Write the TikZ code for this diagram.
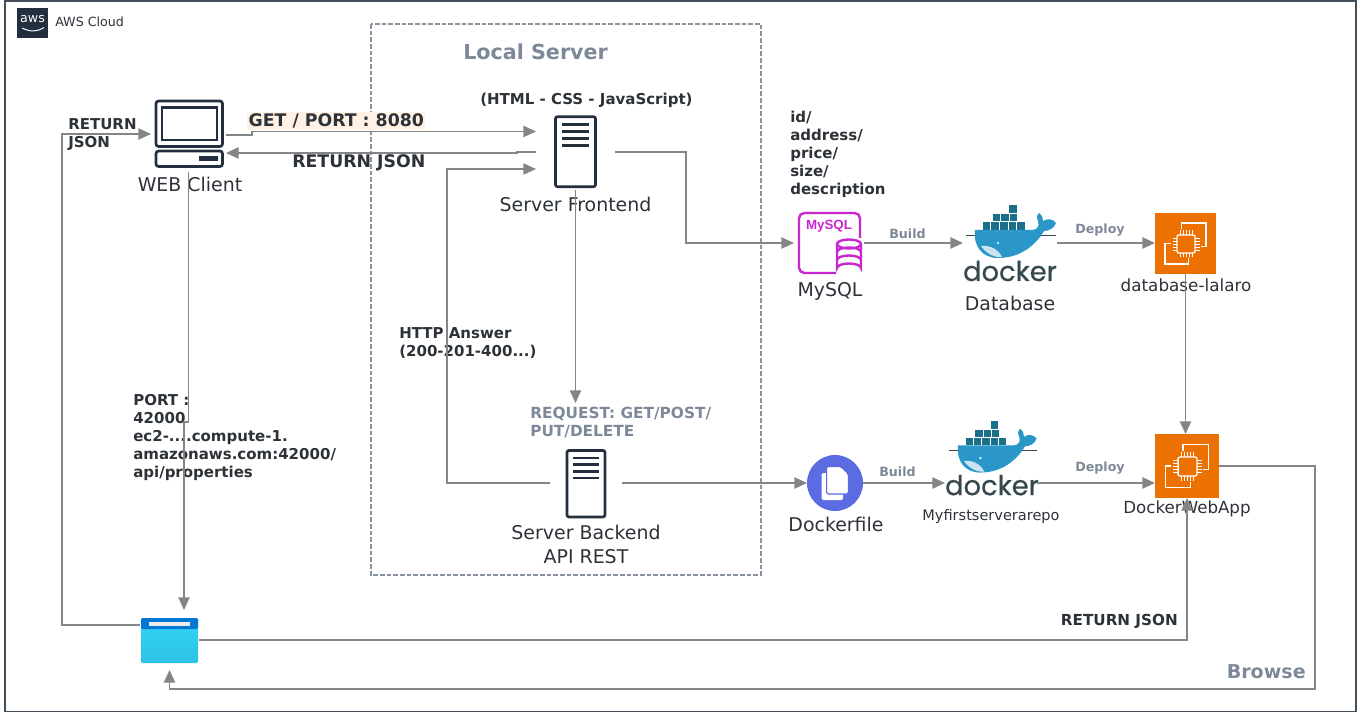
\documentclass[tikz,border=0pt]{standalone}
\usepackage{fontspec}
\setmainfont{DejaVu Sans}
\newfontfamily\logofont[FakeBold=0.5]{Poppins}
\newfontfamily\mysqlfont{Liberation Sans}
\usetikzlibrary{arrows.meta,calc}

\definecolor{inkdark}{HTML}{232F3E}
\definecolor{textdark}{HTML}{2D3238}
\definecolor{linegray}{HTML}{858585}
\definecolor{slategray}{HTML}{7D8998}
\definecolor{dashgray}{HTML}{8A94A0}
\definecolor{ecorange}{HTML}{ED7100}
\definecolor{mysqlpink}{HTML}{C925D1}
\definecolor{whaleblue}{HTML}{2B96C8}
\definecolor{boxteal}{HTML}{1B6F88}
\definecolor{dockerword}{HTML}{36474F}
\definecolor{filepurple}{HTML}{5B6BE1}
\definecolor{tabblue}{HTML}{0078D4}
\definecolor{skyhigh}{HTML}{32D4F5}
\definecolor{skylow}{HTML}{2CC2E6}

\tikzset{
	conn/.style={draw=linegray,line width=1pt,-{Triangle[length=9.5pt,width=8.5pt]}},
	iconbox/.style={inner sep=0pt,outer sep=0pt},
	ecbox/.style={iconbox,fill=ecorange},
	caption/.style={inner sep=0pt,text=textdark,font=\fontsize{14.2}{18}\selectfont,align=center},
	boldtag/.style={inner sep=0pt,text=textdark,align=left,font=\fontsize{11.25}{13.5}\selectfont\bfseries},
	graytag/.style={boldtag,text=slategray},
	bigtag/.style={boldtag,font=\fontsize{13}{15}\selectfont\bfseries},
	smalltag/.style={inner sep=0pt,text=slategray,font=\fontsize{9.5}{12}\selectfont\bfseries},
	serverpic/.pic={
		\draw[inkdark,line width=2pt,rounded corners=1.5pt] (-20,-35) rectangle (20,35);
		\foreach \yy in {-27,-20,-13,-6}
			\draw[inkdark,line width=2pt] (-13.5,\yy) -- (13.5,\yy);
	},
	ecpic/.pic={
		\draw[white,line width=1pt] (-3.7,-14) -- (-3.7,-20.5) -- (20.5,-20.5) -- (20.5,3.3) -- (15,3.3);
		\draw[white,line width=1pt] (-15,0) -- (-20.5,0) -- (-20.5,20.5) -- (3.3,20.5) -- (3.3,15);
		\draw[white,line width=1pt,rounded corners=1pt] (-8.5,-8.5) rectangle (9.5,9.5);
		\foreach \tt in {-6,-3,0,3,6}{
			\draw[white,line width=.7pt] (\tt+.5,-13) -- (\tt+.5,-8.5) (\tt+.5,9.5) -- (\tt+.5,14);
			\draw[white,line width=.7pt] (-13,\tt+.5) -- (-8.5,\tt+.5) (9.5,\tt+.5) -- (14,\tt+.5);
		}
	},
	dockerpic/.pic={
		% containers
		\foreach \cc in {0,...,4}
			\draw[fill=boxteal,draw=white,line width=.2pt] (-28+8.6*\cc,-21.5) rectangle ++(8.6,8.5);
		\foreach \cc in {0,...,2}
			\draw[fill=boxteal,draw=white,line width=.2pt] (-18+8.4*\cc,-30) rectangle ++(8.4,8.5);
		\draw[fill=boxteal,draw=white,line width=.2pt] (-1.7,-39) rectangle ++(8.4,9);
		% whale
		\draw[dockerword,line width=.5pt] (-44,-8) -- (46,-8);
		\fill[whaleblue] (-35,-13) -- (22,-13) .. controls (27,-13) and (30,-17) .. (28,-22)
			.. controls (26,-26) and (27,-29) .. (29,-30) .. controls (32,-28) and (33,-25) .. (33,-22)
			.. controls (38,-25) and (43,-24) .. (46,-20) .. controls (44,-14) and (38,-12) .. (34,-12)
			.. controls (28,-2) and (14,15) .. (-12,15) .. controls (-28,15) and (-37,3) .. (-35,-13) -- cycle;
		\fill[white!75!whaleblue] (-29,3) .. controls (-20,2) and (-12,6) .. (-8,14) .. controls (-16,15) and (-24,10) .. (-29,3) -- cycle;
		\fill[white] (-12,0) circle (1.2);
		\node[inner sep=0pt,text=dockerword] (-word) at (0,28) {\fontsize{20.5}{21}\logofont docker};
	},
}

\begin{document}
\begin{tikzpicture}[x=0.75pt,y=-0.75pt]
	\useasboundingbox (0,0) rectangle (1361,713);

	% Frames
	\draw[inkdark!85,line width=1.2pt] (5,1) rectangle (1356,711.5);
	\draw[dashgray,line width=.8pt,dash pattern=on 3.5pt off 1.5pt] (371,24) rectangle (761,575);
	\node[iconbox,fill=inkdark,minimum size=22.8pt] (awslogo) at (32.5,23) {};
	\node[inner sep=0pt,text=white] (awsword) at (32.5,19.5) {\fontsize{9.5}{10}\selectfont aws};
	\draw[white,line width=.7pt] (22,28) .. controls (30,32) and (37,32) .. (44,27.5);
	\node[caption,anchor=west,font=\fontsize{9.5}{12}\selectfont] (cloudtitle) at (55,22) {AWS Cloud};
	\node[graytag,anchor=west,font=\fontsize{15.5}{18}\selectfont\bfseries] (localtitle) at (463,52) {Local Server};

	% Web client
	\node[iconbox,minimum width=56.25pt,minimum height=54pt] (client) at (188.5,136) {};
	\draw[inkdark,line width=2pt,rounded corners=2pt] (156,101) rectangle (222.5,146.5);
	\draw[inkdark,line width=2pt] (162,107.5) rectangle (217,140);
	\draw[inkdark,line width=2pt,rounded corners=2pt] (156,151) rectangle (222.5,166.5);
	\fill[inkdark] (199,156) rectangle (218,161);
	\node[caption] (clientname) at (190,184) {WEB Client};

	% Servers
	\node[iconbox,minimum width=59.25pt,minimum height=58.5pt] (frontend) at (575.5,151) {};
	\pic (frontendicon) at (575.5,151.7) {serverpic};
	\node[caption] (frontendname) at (575.5,204) {Server Frontend};
	\node[iconbox,minimum width=54pt,minimum height=52.5pt] (backend) at (586,483) {};
	\pic[scale=.95] (backendicon) at (586,483.7) {serverpic};
	\node[caption] (backendname) at (586,544) {Server Backend\\API REST};

	% Database row
	\node[iconbox,minimum size=52.5pt] (mysql) at (829,243) {};
	\draw[mysqlpink,line width=1.8pt,rounded corners=4pt] (836,273) -- (799,273) -- (799,213) -- (860,213) -- (860,238);
	\node[inner sep=0pt,text=mysqlpink] (mysqlword) at (829,226.5) {\fontsize{10}{10}\mysqlfont\bfseries MySQL};
	\draw[mysqlpink,line width=1.8pt,fill=white] (837,244) -- (837,268) arc (180:360:12 and 4.5) -- (861,244);
	\draw[mysqlpink,line width=1.8pt,fill=white] (849,244) ellipse (12 and 4.5);
	\draw[mysqlpink,line width=1.8pt] (837,252) arc (180:360:12 and 4.5) (837,260) arc (180:360:12 and 4.5);
	\node[caption] (mysqlname) at (830,291) {MySQL};
	\node[iconbox,minimum width=70.5pt,minimum height=63pt] (dbdocker) at (1010,243) {};
	\pic (dbicon) at (1010,243) {dockerpic};
	\node[caption] (dbname) at (1010,303) {Database};
	\node[ecbox,minimum size=45.75pt] (ecdb) at (1185.5,243.5) {};
	\pic at (1185.5,243.5) {ecpic};
	\node[caption,font=\fontsize{12.6}{14}\selectfont] (ecdbname) at (1186,285) {database-lalaro};

	% Application row
	\node[iconbox,circle,fill=filepurple,minimum size=42pt] (dockerfile) at (835,483) {};
	\fill[white,rounded corners=1pt] (821.7,473) rectangle (843,500);
	\draw[filepurple,fill=white,line width=.8pt,rounded corners=1pt] (826.7,466.7) -- (841,466.7) -- (848.3,474) -- (848.3,494) -- (826.7,494) -- cycle;
	\node[caption] (dockerfilename) at (836,524) {Dockerfile};
	\node[iconbox,minimum width=69pt,minimum height=63pt] (repodocker) at (991,483) {};
	\pic[scale=.97] (repoicon) at (992,458) {dockerpic};
	\node[caption,font=\fontsize{10.9}{14}\selectfont] (reponame) at (991,516) {Myfirstserverarepo};
	\node[ecbox,minimum size=48pt] (webapp) at (1187,466) {};
	\pic[scale=1.05] at (1187,466) {ecpic};
	\node[caption,font=\fontsize{12.5}{14}\selectfont] (webappname) at (1187,509) {DockerWebApp};

	% Browser
	\node[iconbox,minimum width=44.25pt,minimum height=45pt] (browser) at (169.5,640) {};
	\shade[top color=skyhigh,bottom color=skylow,rounded corners=1pt] (141,618) rectangle (198,663);
	\fill[tabblue,rounded corners=1pt] (141,618) rectangle (198,629);
	\fill[white!92!black] (149,622) rectangle (190,626);

	% Labels
	\node[boldtag,anchor=west] (returnleft) at (68,135) {RETURN\\JSON};
	\node[bigtag,anchor=west,fill=orange!10,inner sep=1pt] (getport) at (247,121) {GET / PORT : 8080};
	\node[bigtag,anchor=west] (returnfront) at (292,163) {RETURN JSON};
	\node[boldtag,anchor=west] (webstack) at (480,100) {(HTML - CSS - JavaScript)};
	\node[boldtag,anchor=north west] (fields) at (790,111) {id/\\address/\\price/\\size/\\description};
	\node[boldtag,anchor=west] (httpanswer) at (399,343) {HTTP Answer\\(200-201-400...)};
	\node[boldtag,anchor=north west] (portnote) at (133,394) {PORT :\\42000\\ec2-....compute-1.\\amazonaws.com:42000/\\api/properties};
	\node[graytag,anchor=north west,font=\fontsize{11.5}{13.5}\selectfont\bfseries] (request) at (530,406.5) {REQUEST: GET/POST/\\PUT/DELETE};
	\node[smalltag,anchor=west] (builddb) at (889,234) {Build};
	\node[smalltag,anchor=west] (deploydb) at (1075,230) {Deploy};
	\node[smalltag,anchor=west] (buildrepo) at (879,472) {Build};
	\node[smalltag,anchor=west] (deployrepo) at (1075,468) {Deploy};
	\node[boldtag,anchor=east,font=\fontsize{11.4}{13}\selectfont\bfseries] (returnright) at (1178,621) {RETURN JSON};
	\node[graytag,anchor=east,font=\fontsize{14.3}{18}\selectfont\bfseries] (browse) at (1306,672) {Browse};

	% Connectors
	\draw[conn] ($(client.east)+(0,-1)$) -- ++(26,0) |- ($(frontend.west)+(0,-19.5)$);
	\draw[conn] ($(frontend.west)+(0,1)$) -- ++(-19,0) -- ++(0,1) -- ($(client.east)+(0,17)$);
	\draw[conn] ($(frontend.east)+(0,1)$) -- ++(71,0) |- (mysql.west);
	\draw[conn] (frontend.south) -- ($(frontend.south |- request.north)+(0,-3.5)$);
	\draw[conn] (backend.west) -- ++(-103,0) |- ($(frontend.west)+(0,18)$);
	\draw[conn] (backend.east) -- (dockerfile.west);
	\draw[conn] (dockerfile.east) -- (repodocker.west);
	\draw[conn] (repodocker.east) -- (webapp.west |- repodocker.east);
	\draw[conn] (mysql.east) -- (dbdocker.west);
	\draw[conn] (dbdocker.east) -- (ecdb.west |- dbdocker.east);
	\draw[conn] (ecdb.south) -- (ecdb.south |- webapp.north);
	\draw[conn] (webapp.east) -- ++(96,0) -- ++(0,223) -| (browser.south);
	\draw[conn] (browser.east) -| (webapp.south);
	\draw[conn] (client.south) -- ++(0,250) -| ($(browser.north)+(14.5,0)$);
	\draw[conn] ($(browser.west)+(0,-15)$) -- ++(-78,0) |- ($(client.west)+(0,-2)$);
\end{tikzpicture}
\end{document}
